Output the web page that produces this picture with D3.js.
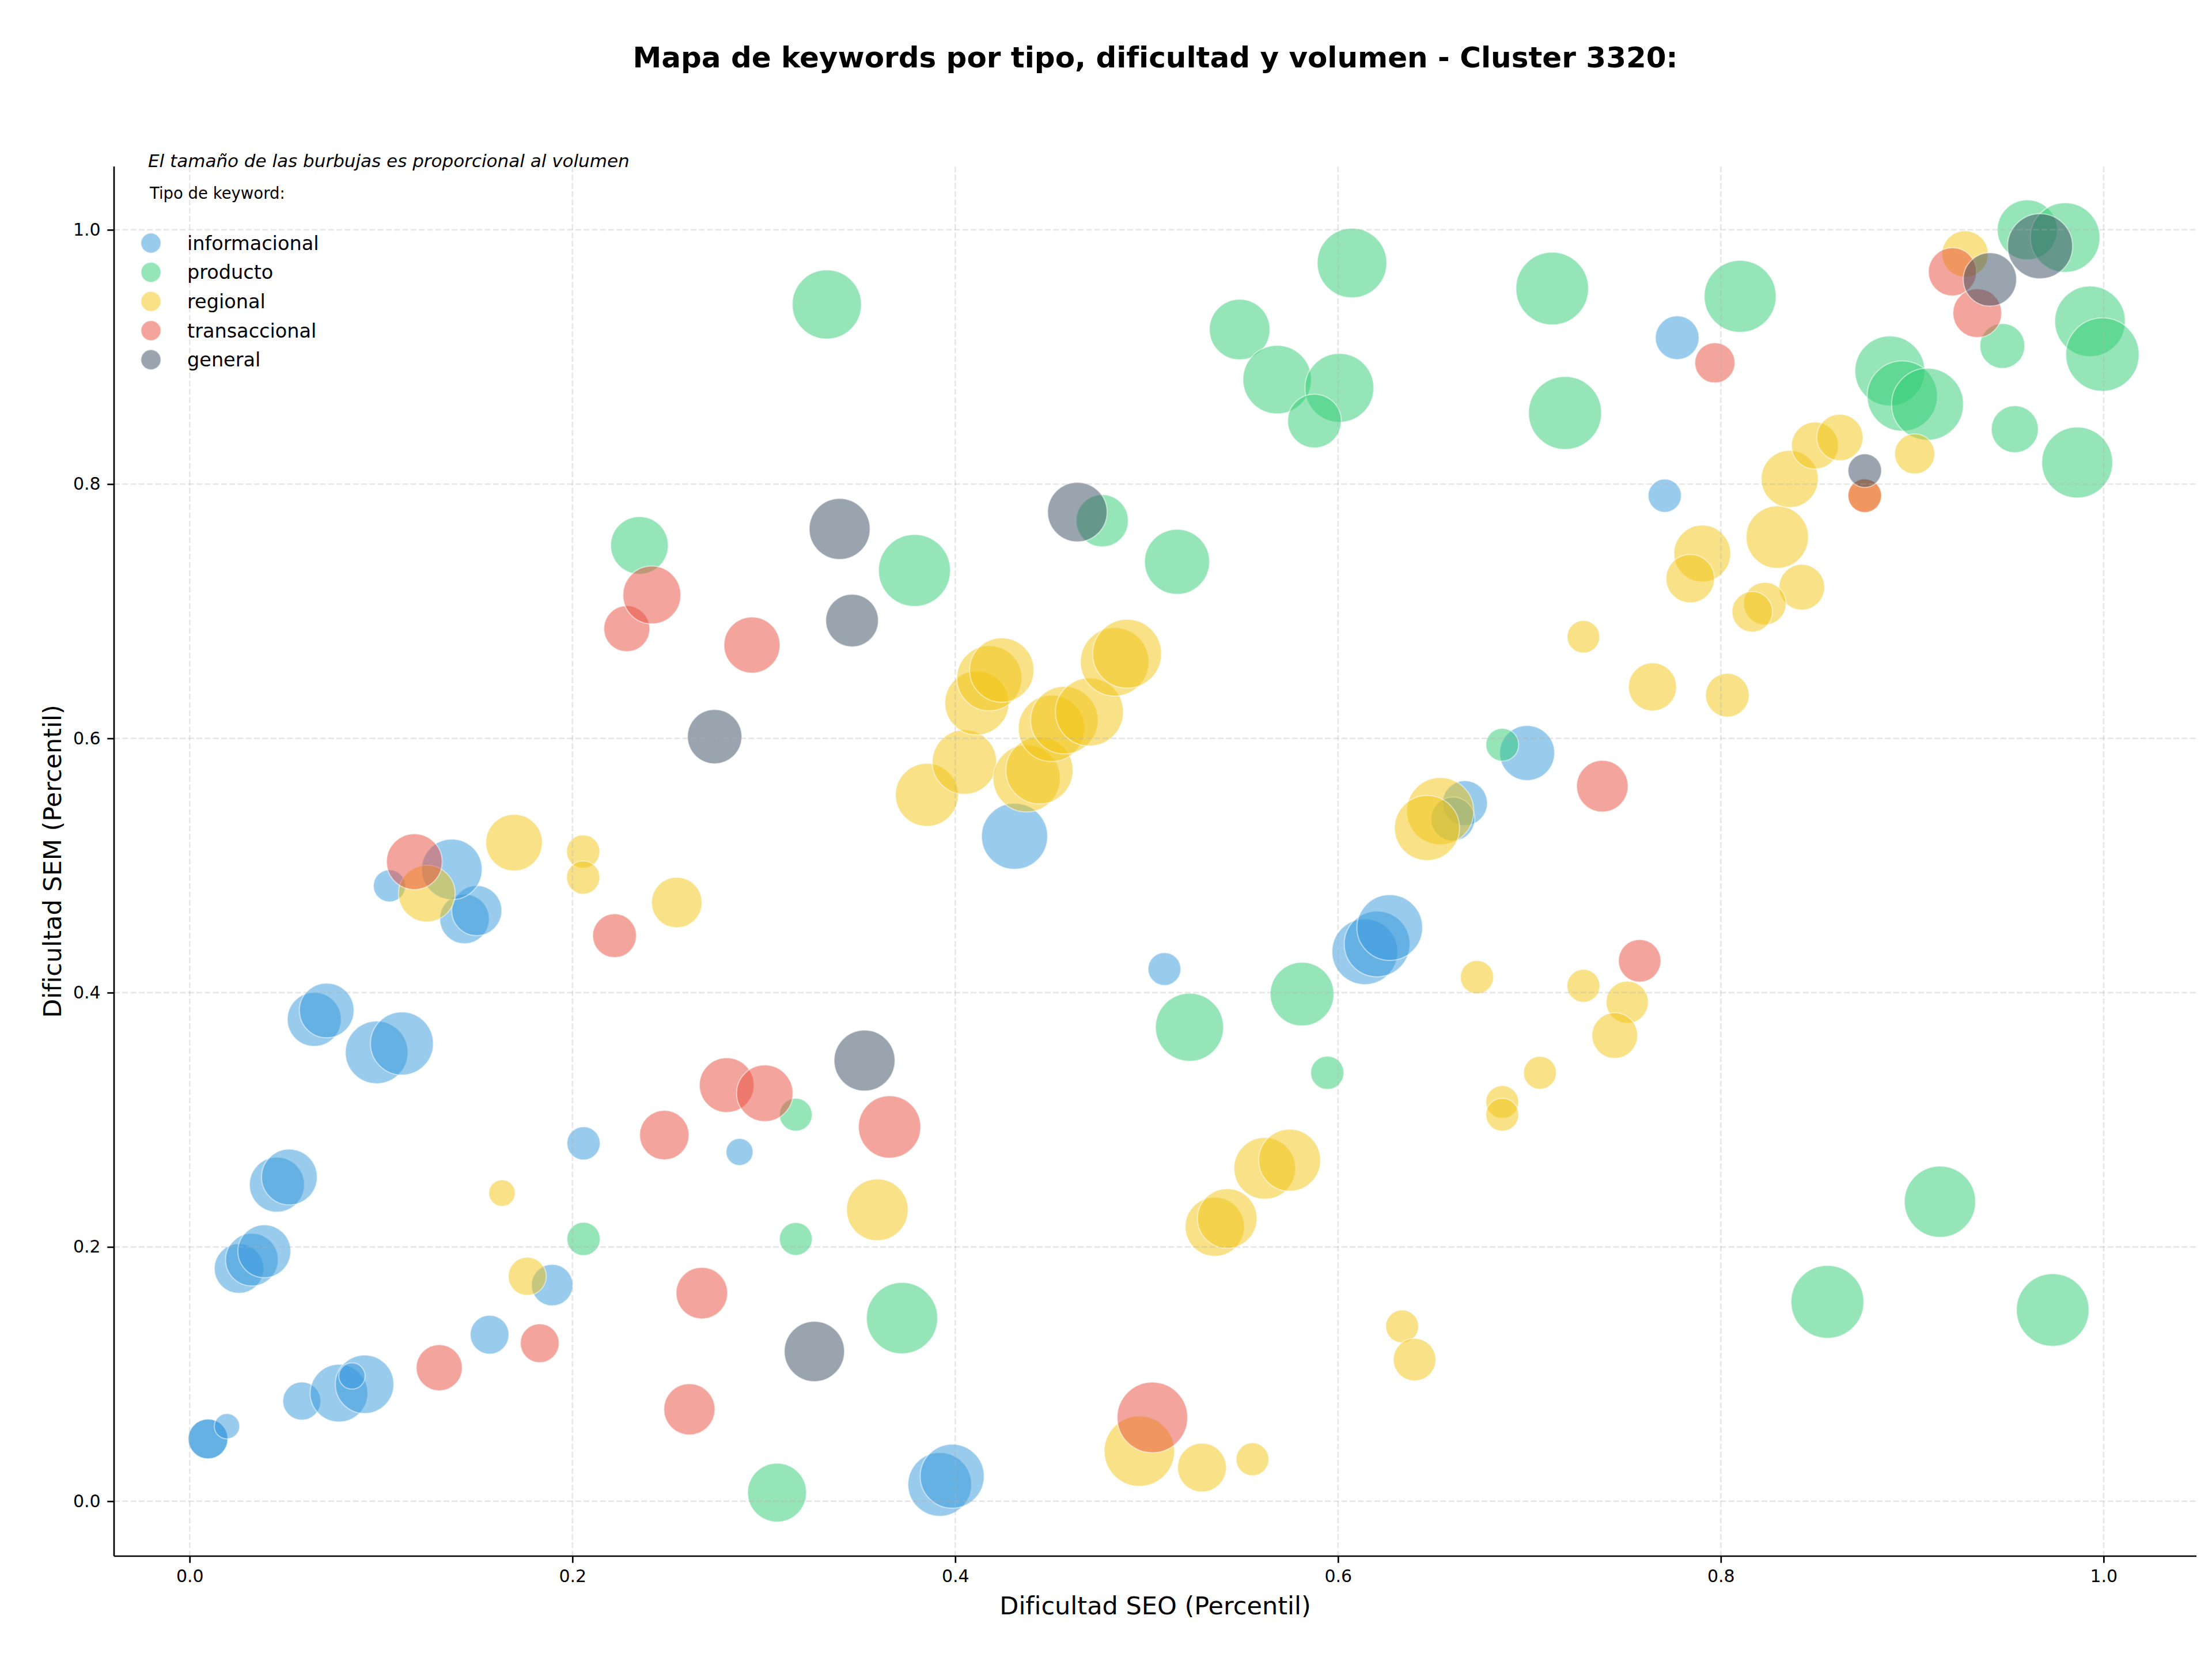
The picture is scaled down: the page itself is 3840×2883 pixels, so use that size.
<!DOCTYPE html>
<html lang="es">
<head>
<meta charset="UTF-8">
<title>Mapa de keywords por tipo, dificultad y volumen</title>
<script src="https://d3js.org/d3.v7.min.js"></script>
<style>
    body { margin: 0; padding: 0; background: #fff; }
    svg { display: block; font-family: "DejaVu Sans", sans-serif; }
</style>
</head>
<body>
<svg id="chart"></svg>
<script>
// [dificultad SEO, dificultad SEM, volumen] por tipo de keyword
const informacional = [
    [0.0096, 0.049, 2900], [0.0096, 0.049, 2900], [0.0195, 0.059, 1180], [0.0586, 0.0788, 2660],
    [0.078, 0.085, 6100], [0.0914, 0.092, 6280], [0.0848, 0.0985, 1270], [0.0258, 0.183, 4510],
    [0.0325, 0.19, 5080], [0.039, 0.1966, 5140], [0.0456, 0.249, 5550], [0.0521, 0.255, 5700],
    [0.0651, 0.379, 5350], [0.0716, 0.386, 5480], [0.0977, 0.353, 7200], [0.1109, 0.36, 7280],
    [0.1044, 0.484, 1900], [0.1436, 0.458, 4510], [0.15, 0.4645, 4620], [0.137, 0.497, 6730],
    [0.2058, 0.2815, 2030], [0.1894, 0.17, 3160], [0.1567, 0.131, 2760], [0.2873, 0.2747, 1340],
    [0.3919, 0.0132, 7440], [0.3984, 0.0197, 7520], [0.431, 0.523, 8020], [0.5093, 0.4186, 1980],
    [0.614, 0.4322, 7930], [0.6204, 0.4383, 7930], [0.627, 0.4512, 7930], [0.6663, 0.5491, 3710],
    [0.66, 0.5366, 3530], [0.6988, 0.5885, 5550], [0.7707, 0.7909, 2030], [0.7772, 0.9151, 3510]
];
const producto = [
    [0.235, 0.7518, 6100], [0.3329, 0.9413, 8790], [0.3787, 0.7321, 9500], [0.4768, 0.7712, 5010],
    [0.5159, 0.7389, 7770], [0.5486, 0.9216, 6730], [0.5682, 0.8822, 8610], [0.6007, 0.8757, 8700],
    [0.5877, 0.8496, 5280], [0.6073, 0.9739, 8880], [0.7119, 0.9538, 9690], [0.7186, 0.856, 9780],
    [0.8101, 0.9477, 9500], [0.6858, 0.595, 1980], [0.9601, 1.0, 6580], [0.9799, 0.9939, 8880],
    [0.9929, 0.928, 9140], [0.9994, 0.9019, 9870], [0.9471, 0.9087, 3710], [0.8883, 0.889, 8960],
    [0.8948, 0.8693, 9050], [0.908, 0.8628, 9500], [0.9536, 0.8432, 4060], [0.9862, 0.817, 9230],
    [0.2058, 0.2063, 2030], [0.3167, 0.304, 1980], [0.3167, 0.2063, 1980], [0.3722, 0.144, 9320],
    [0.3069, 0.0068, 6350], [0.5224, 0.3728, 8500], [0.5812, 0.3989, 7440], [0.5944, 0.337, 2030],
    [0.8557, 0.1568, 9750], [0.9145, 0.2356, 9320], [0.9734, 0.1504, 9690]
];
const regional = [
    [0.1239, 0.478, 5910], [0.1695, 0.518, 5860], [0.2056, 0.511, 2030], [0.2056, 0.4906, 2030],
    [0.2545, 0.4709, 4680], [0.1632, 0.2424, 1290], [0.1764, 0.1769, 2660], [0.3593, 0.2292, 6960],
    [0.3852, 0.5556, 7280], [0.4048, 0.5814, 7600], [0.4113, 0.6279, 7520], [0.4178, 0.6473, 7770],
    [0.4243, 0.6537, 7600], [0.4373, 0.5685, 8270], [0.444, 0.5749, 8270], [0.4503, 0.6079, 8100],
    [0.457, 0.6143, 8350], [0.4701, 0.6208, 8500], [0.4833, 0.6602, 8610], [0.4898, 0.6666, 8700],
    [0.7282, 0.6799, 1940], [0.7643, 0.6405, 4250], [0.7903, 0.7454, 5910], [0.784, 0.7257, 4310],
    [0.8295, 0.7583, 7120], [0.836, 0.8041, 5980], [0.8492, 0.8303, 4060], [0.8622, 0.8367, 3950],
    [0.9013, 0.8238, 2960], [0.9276, 0.981, 3950], [0.8423, 0.7189, 3830], [0.823, 0.706, 3320],
    [0.8164, 0.6996, 3010], [0.8034, 0.634, 3490], [0.8752, 0.7909, 2070], [0.6534, 0.5427, 8270],
    [0.6465, 0.5295, 7770], [0.6726, 0.4122, 2030], [0.7282, 0.4054, 1980], [0.7511, 0.3925, 3270],
    [0.7446, 0.3663, 3830], [0.7055, 0.337, 1980], [0.6858, 0.314, 1980], [0.6858, 0.304, 1980],
    [0.5617, 0.2618, 6960], [0.5747, 0.2682, 7040], [0.5356, 0.2159, 6420], [0.5421, 0.2224, 6500],
    [0.6335, 0.1375, 1980], [0.64, 0.1114, 3320], [0.4962, 0.0394, 9080], [0.5289, 0.0265, 4370],
    [0.5553, 0.033, 1980]
];
const transaccional = [
    [0.1174, 0.503, 5700], [0.222, 0.4448, 3530], [0.2284, 0.6863, 3890], [0.2415, 0.7128, 6150],
    [0.2938, 0.6734, 5770], [0.1304, 0.105, 3910], [0.1829, 0.1243, 2760], [0.248, 0.288, 4490],
    [0.2806, 0.3273, 5480], [0.3005, 0.3209, 5840], [0.3657, 0.2944, 7120], [0.2676, 0.1637, 4880],
    [0.2611, 0.0723, 4810], [0.503, 0.0659, 9140], [0.7381, 0.5624, 4880], [0.7576, 0.4251, 3320],
    [0.7969, 0.8954, 2960], [0.921, 0.967, 4250], [0.934, 0.9345, 4370], [0.8752, 0.7909, 2070]
];
const general = [
    [0.2743, 0.6014, 5420], [0.3396, 0.7647, 6810], [0.3461, 0.6927, 5080], [0.4638, 0.778, 6500],
    [0.3526, 0.3466, 6810], [0.3264, 0.1178, 6650], [0.8752, 0.8106, 2070], [0.9406, 0.961, 5210],
    [0.9668, 0.9871, 7770]
];

const tipos = ["informacional", "producto", "regional", "transaccional", "general"];
const series = [informacional, producto, regional, transaccional, general];
const colores = ["#3498db", "#2ecc71", "#f1c40f", "#e74c3c", "#34495e"];
const tickValues = [0.0, 0.2, 0.4, 0.6, 0.8, 1.0];
const tickLabels = ["0.0", "0.2", "0.4", "0.6", "0.8", "1.0"];

const width = 3840, height = 2883;
const margin = { top: 289, right: 27, bottom: 182, left: 198 };
const innerW = width - margin.left - margin.right;
const innerH = height - margin.top - margin.bottom;

const svg = d3.select("#chart").attr("width", width).attr("height", height);
svg.append("rect").attr("width", width).attr("height", height).attr("fill", "#fff");

const x = d3.scaleLinear().domain([-0.0395, 1.0485]).range([0, innerW]);
const y = d3.scaleLinear().domain([-0.0432, 1.0498]).range([innerH, 0]);
const r = d3.scaleSqrt().domain([0, 10000]).range([0, 64]);

const g = svg.append("g").attr("transform", `translate(${margin.left},${margin.top})`);

// burbujas, una capa por tipo (en el orden de la leyenda)
series.forEach(function (data, i) {
    g.append("g")
        .selectAll("circle")
        .data(data)
        .enter()
        .append("circle")
        .attr("cx", d => x(d[0]))
        .attr("cy", d => y(d[1]))
        .attr("r", d => r(d[2]))
        .attr("fill", colores[i])
        .attr("fill-opacity", 0.5)
        .attr("stroke", "#fff")
        .attr("stroke-opacity", 0.5)
        .attr("stroke-width", 2);
});

// rejilla discontinua
const grid = g.append("g").attr("stroke", "#b0b0b0").attr("stroke-opacity", 0.3)
    .attr("stroke-width", 2.7).attr("stroke-dasharray", "10,4.3");
grid.selectAll(".gx").data(tickValues).enter().append("line")
    .attr("x1", d => x(d)).attr("x2", d => x(d)).attr("y1", 0).attr("y2", innerH);
grid.selectAll(".gy").data(tickValues).enter().append("line")
    .attr("y1", d => y(d)).attr("y2", d => y(d)).attr("x1", 0).attr("x2", innerW);

// ejes
const xAxis = d3.axisBottom(x).tickValues(tickValues).tickFormat((d, i) => tickLabels[i])
    .tickSizeInner(11.7).tickSizeOuter(0).tickPadding(11.7);
const yAxis = d3.axisLeft(y).tickValues(tickValues).tickFormat((d, i) => tickLabels[i])
    .tickSizeInner(11.7).tickSizeOuter(0).tickPadding(11.7);

const gx = g.append("g").attr("transform", `translate(0,${innerH})`).call(xAxis);
const gy = g.append("g").call(yAxis);
[gx, gy].forEach(function (ax) {
    ax.select(".domain").attr("stroke", "#000").attr("stroke-width", 2.7);
    ax.selectAll(".tick line").attr("stroke", "#000").attr("stroke-width", 2.7);
    ax.selectAll(".tick text").attr("fill", "#000").style("font-size", "30px")
        .style("font-family", "DejaVu Sans");
});
gx.select(".domain").attr("d", `M0,0H${innerW}`);
gy.select(".domain").attr("d", `M0,0V${innerH}`);

// títulos
svg.append("text")
    .attr("x", margin.left + innerW / 2).attr("y", 117)
    .attr("text-anchor", "middle")
    .style("font-size", "50px").style("font-weight", "bold")
    .text("Mapa de keywords por tipo, dificultad y volumen - Cluster 3320:");

svg.append("text")
    .attr("x", margin.left + innerW / 2).attr("y", 2802)
    .attr("text-anchor", "middle")
    .style("font-size", "43px")
    .text("Dificultad SEO (Percentil)");

svg.append("text")
    .attr("transform", `translate(106,${margin.top + innerH / 2}) rotate(-90)`)
    .attr("text-anchor", "middle")
    .style("font-size", "43px")
    .text("Dificultad SEM (Percentil)");

svg.append("text")
    .attr("x", 257).attr("y", 290)
    .style("font-size", "31px").style("font-style", "italic")
    .text("El tamaño de las burbujas es proporcional al volumen");

// leyenda
const legend = svg.append("g");
legend.append("text")
    .attr("x", 260).attr("y", 345)
    .style("font-size", "27.5px")
    .text("Tipo de keyword:");

const items = legend.selectAll(".item")
    .data(tipos)
    .enter()
    .append("g")
    .attr("transform", (d, i) => `translate(262,${422 + i * 50.6})`);

items.append("circle")
    .attr("r", 17.4)
    .attr("fill", (d, i) => colores[i])
    .attr("fill-opacity", 0.5)
    .attr("stroke", "#fff")
    .attr("stroke-opacity", 0.5)
    .attr("stroke-width", 2);

items.append("text")
    .attr("x", 63).attr("y", 0).attr("dy", "0.35em")
    .style("font-size", "33.5px")
    .text(d => d);
</script>
</body>
</html>
